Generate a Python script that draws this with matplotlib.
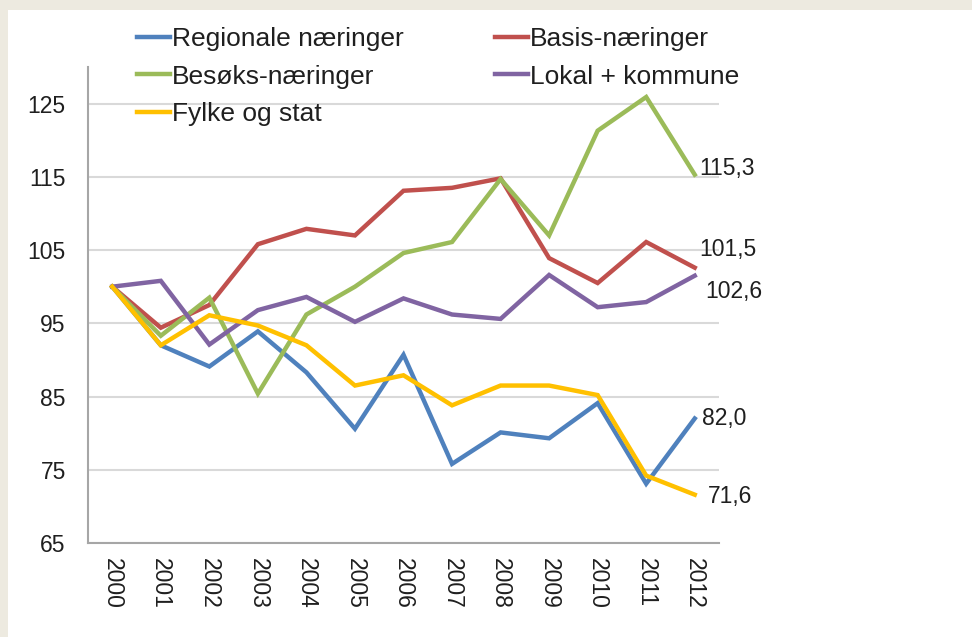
import matplotlib.pyplot as plt
import matplotlib.patches as mpatches
import numpy as np

plt.rcParams['font.family'] = ['Liberation Sans', 'DejaVu Sans']

# index values 2000 = 100
years = ['2000', '2001', '2002', '2003', '2004', '2005', '2006',
         '2007', '2008', '2009', '2010', '2011', '2012']
regionale = [100, 92.0, 89.1, 93.9, 88.3, 80.6, 90.7, 75.8, 80.1, 79.3, 84.1, 73.1, 82.0]
basis = [100, 94.4, 97.5, 105.8, 107.9, 107.0, 113.1, 113.5, 114.8, 103.9, 100.5, 106.1, 102.6]
besoks = [100, 93.3, 98.5, 85.4, 96.2, 100.0, 104.6, 106.1, 114.7, 107.0, 121.3, 125.9, 115.3]
lokal = [100, 100.8, 92.1, 96.8, 98.6, 95.2, 98.4, 96.2, 95.6, 101.6, 97.2, 97.9, 101.5]
fylke = [100, 92.0, 96.1, 94.7, 92.0, 86.5, 87.9, 83.8, 86.5, 86.5, 85.2, 74.2, 71.6]

names = ['Regionale næringer', 'Basis-næringer', 'Besøks-næringer',
         'Lokal + kommune', 'Fylke og stat']
series = [regionale, basis, besoks, lokal, fylke]
colors = ['#4F81BD', '#C0504D', '#9BBB59', '#8064A2', '#FFC000']

# end labels as printed in the chart (series index, text)
end_labels = [(2, '115,3'), (1, '101,5'), (3, '102,6'), (0, '82,0'), (4, '71,6')]
label_offsets = [(5, 6), (5, 18), (11, -16), (7, 0), (13, -2)]

txt = '#1F1F1F'

fig = plt.figure(figsize=(9.72, 6.37), dpi=100, facecolor='#EDEAE0')
# white sheet inside the beige frame
fig.add_artist(mpatches.Rectangle((8 / 972, 0), 1, 1 - 10 / 637,
                                  transform=fig.transFigure, facecolor='white',
                                  edgecolor='none', zorder=0))

ax = fig.add_axes([88 / 972, 94 / 637, 631 / 972, 476 / 637])
ax.set_facecolor('none')

x = np.arange(len(years))
lines = []
for vals, name, c in zip(series, names, colors):
    ln, = ax.plot(x, vals, color=c, lw=3.2, label=name, solid_joinstyle='miter', zorder=3)
    lines.append(ln)

for (i, t), (dx, dy) in zip(end_labels, label_offsets):
    ax.annotate(t, (x[-1], series[i][-1]), xytext=(dx, dy), textcoords='offset pixels',
                ha='left', va='center', fontsize=16.5, color=txt)

ax.set_xlim(-0.5, len(years) - 0.5)
ax.set_ylim(65, 130)
ax.set_yticks(np.arange(65, 126, 10))
ax.set_xticks(x)
ax.set_xticklabels(years, rotation=-90, fontsize=16.5, color=txt)
ax.tick_params(axis='x', length=0, pad=11)
ax.tick_params(axis='y', length=0, pad=16, labelsize=16.5, labelcolor=txt)

ax.grid(axis='y', color='#D9D9D9', lw=1.5, zorder=0)
ax.set_axisbelow(True)
for s in ['top', 'right']:
    ax.spines[s].set_visible(False)
for s in ['left', 'bottom']:
    ax.spines[s].set_color('#A6A6A6')
    ax.spines[s].set_linewidth(1.5)

# legend reads row by row in the original, matplotlib fills columns
order = [0, 2, 4, 1, 3]
ax.legend([lines[k] for k in order], [names[k] for k in order], ncol=2,
          loc='upper left', bbox_to_anchor=(137 / 972, 1 - 27 / 637),
          bbox_transform=fig.transFigure, frameon=False, fontsize=19,
          handlelength=1.25, handletextpad=0.08, columnspacing=3.45,
          labelspacing=0.52, borderpad=0, borderaxespad=0, labelcolor=txt)

fig.savefig('out.png', dpi=100, facecolor=fig.get_facecolor())
